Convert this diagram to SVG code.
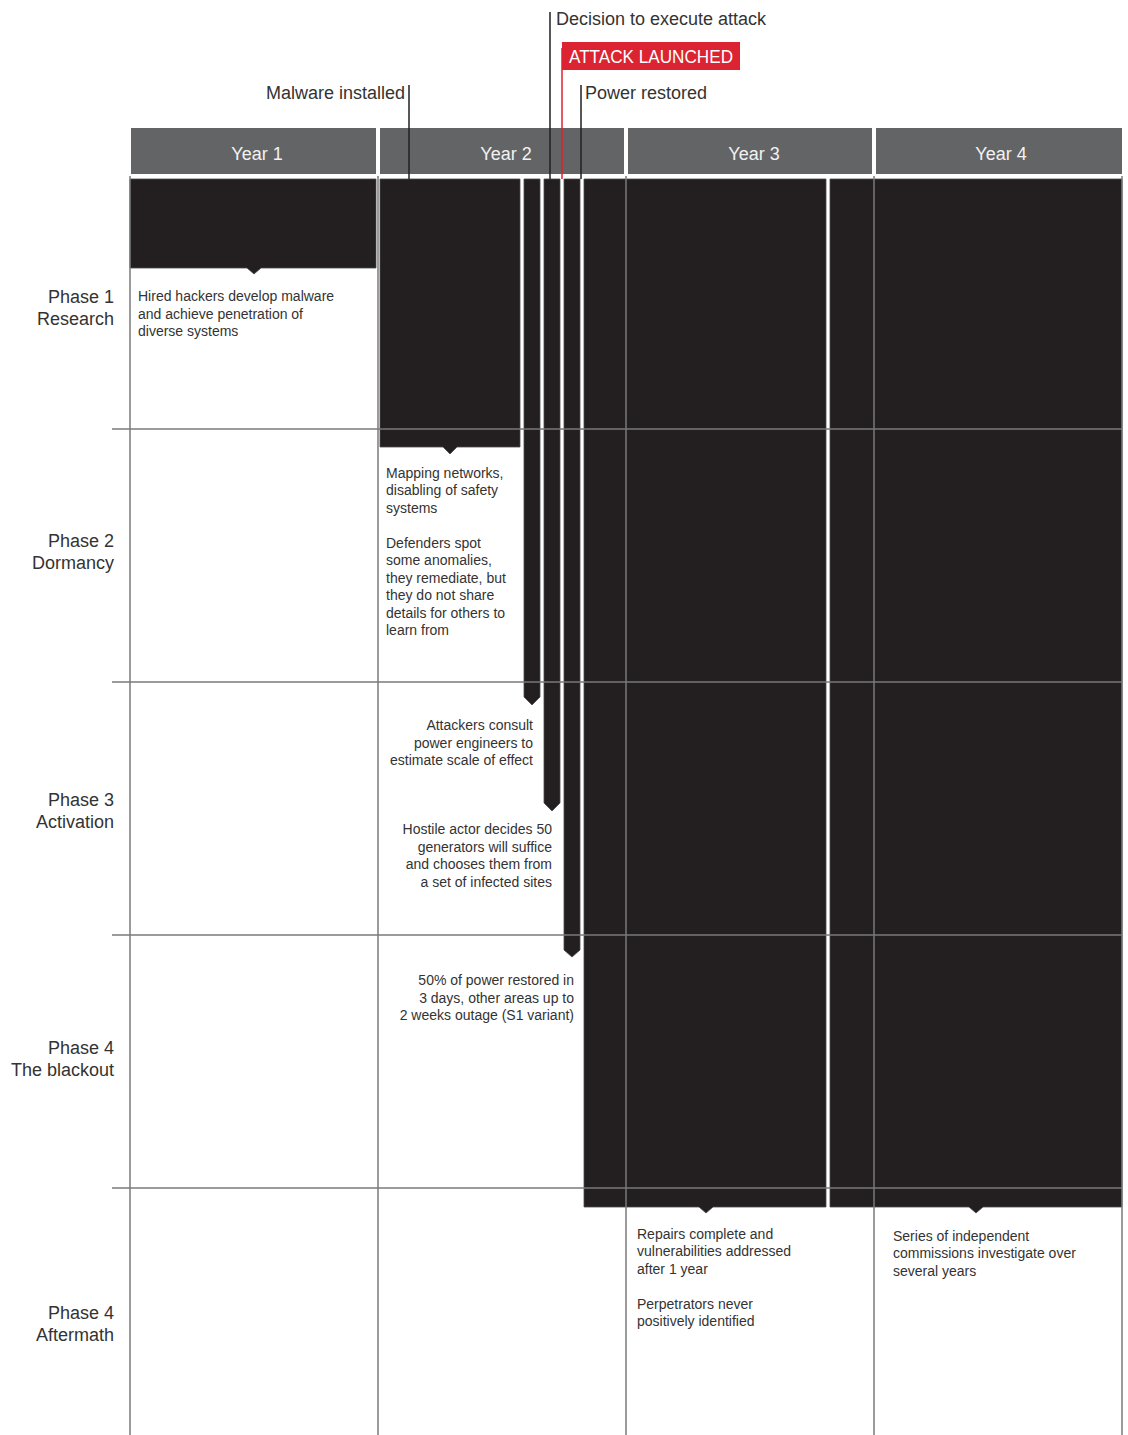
<svg xmlns="http://www.w3.org/2000/svg" width="1128" height="1435" viewBox="0 0 1128 1435">
<style>
.hdr{fill:#636466}
.hdrt{font-family:"Liberation Sans",Arial,sans-serif;font-size:18px;fill:#f2f2f2;text-anchor:middle}
.bar{fill:#231f20;stroke:#4a4a4a;stroke-width:0.8}
.grid{stroke:#7a7a7a;stroke-width:1.5;fill:none}
.ph{font-family:"Liberation Sans",Arial,sans-serif;font-size:18px;fill:#333;text-anchor:end}
.t{font-family:"Liberation Sans",Arial,sans-serif;font-size:14px;fill:#333}
.te{font-family:"Liberation Sans",Arial,sans-serif;font-size:14px;fill:#333;text-anchor:end}
.lbl{font-family:"Liberation Sans",Arial,sans-serif;font-size:18px;fill:#333}
.mk{stroke:#231f20;stroke-width:1.5}
</style>
<rect width="1128" height="1435" fill="#fff"/>
<g id="headers">
<rect class="hdr" x="131" y="128" width="245" height="46"/>
<rect class="hdr" x="380" y="128" width="244" height="46"/>
<rect class="hdr" x="628" y="128" width="244" height="46"/>
<rect class="hdr" x="876" y="128" width="246" height="46"/>
<text class="hdrt" x="257" y="160">Year 1</text>
<text class="hdrt" x="506" y="160">Year 2</text>
<text class="hdrt" x="754" y="160">Year 3</text>
<text class="hdrt" x="1001" y="160">Year 4</text>
</g>
<g id="bars">
<g id="bar1"><path class="bar" d="M130,179H376V268H261L254,274L247,268H130Z"/></g>
<g id="bar2"><path class="bar" d="M380,179H520V447H457L450,454L443,447H380Z"/></g>
<g id="bar3"><path class="bar" d="M524,179H540V697L532,705L524,697Z"/></g>
<g id="bar4"><path class="bar" d="M544,179H560V803L552,811L544,803Z"/></g>
<g id="bar5"><path class="bar" d="M564,179H580V950L572,957L564,950Z"/></g>
<g id="bar6"><path class="bar" d="M584,179H826V1207H713L706,1213L699,1207H584Z"/></g>
<g id="bar7"><path class="bar" d="M830,179H1122V1207H983L976,1213L969,1207H830Z"/></g>
</g>
<g id="grid">
<line class="grid" x1="130" y1="176" x2="130" y2="1435"/>
<line class="grid" x1="378" y1="176" x2="378" y2="1435"/>
<line class="grid" x1="626" y1="176" x2="626" y2="1435"/>
<line class="grid" x1="874" y1="176" x2="874" y2="1435"/>
<line class="grid" x1="1122" y1="176" x2="1122" y2="1435"/>
<line class="grid" x1="112" y1="429" x2="1122" y2="429"/>
<line class="grid" x1="112" y1="682" x2="1122" y2="682"/>
<line class="grid" x1="112" y1="935" x2="1122" y2="935"/>
<line class="grid" x1="112" y1="1188" x2="1122" y2="1188"/>
</g>
<g id="connectors">
<line class="mk" x1="409" y1="85" x2="409" y2="179"/>
<line class="mk" x1="550" y1="12" x2="550" y2="179"/>
<line x1="562" y1="48" x2="562" y2="179" stroke="#e0202e" stroke-width="1.5"/>
<line class="mk" x1="581" y1="85" x2="581" y2="179"/>
</g>
<g id="markers">
<text class="lbl" x="405" y="99" text-anchor="end">Malware installed</text>
<text class="lbl" x="556" y="25">Decision to execute attack</text>
<rect x="562" y="42" width="178" height="28" fill="#dc2331"/>
<text x="569" y="63" font-family="Liberation Sans,Arial,sans-serif" font-size="18" fill="#fff" textLength="164" lengthAdjust="spacingAndGlyphs">ATTACK LAUNCHED</text>
<text class="lbl" x="585" y="99">Power restored</text>
</g>
<g id="phases">
<text class="ph" x="114" y="303">Phase 1</text><text class="ph" x="114" y="325">Research</text>
<text class="ph" x="114" y="547">Phase 2</text><text class="ph" x="114" y="569">Dormancy</text>
<text class="ph" x="114" y="806">Phase 3</text><text class="ph" x="114" y="828">Activation</text>
<text class="ph" x="114" y="1054">Phase 4</text><text class="ph" x="114" y="1076">The blackout</text>
<text class="ph" x="114" y="1319">Phase 4</text><text class="ph" x="114" y="1341">Aftermath</text>
</g>
<g id="notes">
<text class="t" x="138" y="301">Hired hackers develop malware</text>
<text class="t" x="138" y="319">and achieve penetration of</text>
<text class="t" x="138" y="336">diverse systems</text>
<text class="t" x="386" y="478">Mapping networks,</text>
<text class="t" x="386" y="495">disabling of safety</text>
<text class="t" x="386" y="513">systems</text>
<text class="t" x="386" y="548">Defenders spot</text>
<text class="t" x="386" y="565">some anomalies,</text>
<text class="t" x="386" y="583">they remediate, but</text>
<text class="t" x="386" y="600">they do not share</text>
<text class="t" x="386" y="618">details for others to</text>
<text class="t" x="386" y="635">learn from</text>
<text class="te" x="533" y="730">Attackers consult</text>
<text class="te" x="533" y="748">power engineers to</text>
<text class="te" x="533" y="765">estimate scale of effect</text>
<text class="te" x="552" y="834">Hostile actor decides 50</text>
<text class="te" x="552" y="852">generators will suffice</text>
<text class="te" x="552" y="869">and chooses them from</text>
<text class="te" x="552" y="887">a set of infected sites</text>
<text class="te" x="574" y="985">50% of power restored in</text>
<text class="te" x="574" y="1003">3 days, other areas up to</text>
<text class="te" x="574" y="1020">2 weeks outage (S1 variant)</text>
<text class="t" x="637" y="1239">Repairs complete and</text>
<text class="t" x="637" y="1256">vulnerabilities addressed</text>
<text class="t" x="637" y="1274">after 1 year</text>
<text class="t" x="637" y="1309">Perpetrators never</text>
<text class="t" x="637" y="1326">positively identified</text>
<text class="t" x="893" y="1241">Series of independent</text>
<text class="t" x="893" y="1258">commissions investigate over</text>
<text class="t" x="893" y="1276">several years</text>
</g>
</svg>
